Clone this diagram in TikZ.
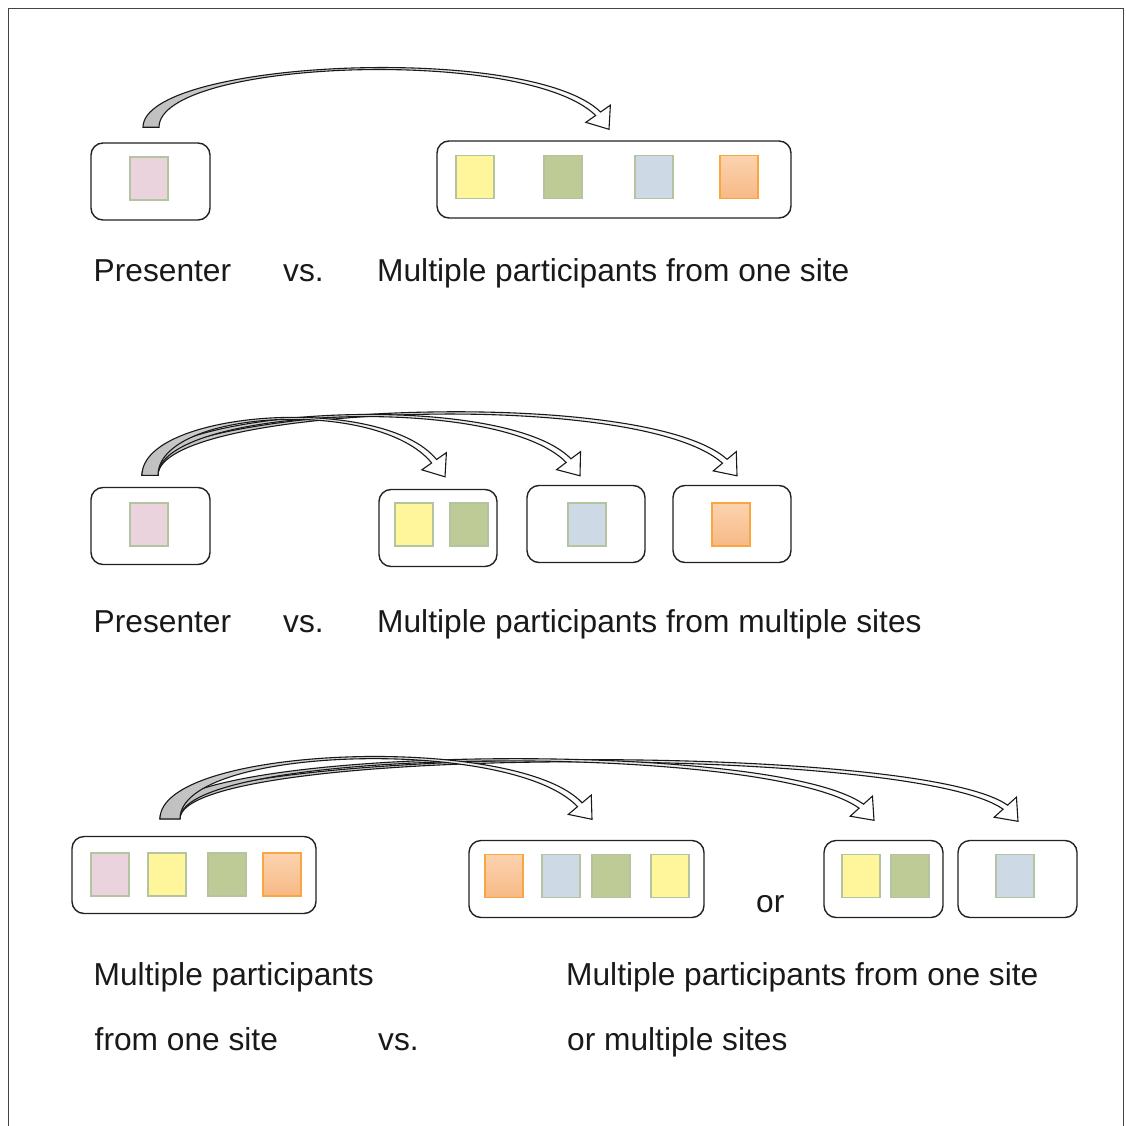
\documentclass[tikz,border=0pt]{standalone}
\usepackage{fontspec}
\setmainfont{Liberation Sans}
\usetikzlibrary{calc}

\definecolor{pinkfill}{HTML}{EBD3DD}
\definecolor{yellowfill}{HTML}{FFF59B}
\definecolor{greenfill}{HTML}{BECB96}
\definecolor{bluefill}{HTML}{CED9E6}
\definecolor{orangetop}{HTML}{FBD3AF}
\definecolor{orangebot}{HTML}{F7B985}
\definecolor{orangeline}{HTML}{F8A542}
\definecolor{sqline}{HTML}{B4C4A0}
\definecolor{boxline}{HTML}{222222}
\definecolor{frameline}{HTML}{444444}

\tikzset{
  x=1pt, y=-1pt,
  grp/.style={draw=boxline, line width=1.4pt, rounded corners=12pt, fill=white,
    inner sep=0pt, minimum width=#1, minimum height=77pt},
  grp/.default=119pt,
  sq/.style={draw=sqline, line width=1.3pt, fill=#1, inner sep=0pt,
    minimum width=38pt, minimum height=43pt},
  sqorange/.style={draw=orangeline, line width=1.3pt, top color=orangetop,
    bottom color=orangebot, inner sep=0pt, minimum width=38pt, minimum height=43pt},
  lbl/.style={anchor=base west, inner sep=0pt, text=black!90,
    font=\fontsize{31.7}{37}\selectfont},
  flexarrow/.style={draw=black!90, line width=1.1pt, line join=miter,
    left color=black!25, right color=white},
}

% Tapered block arrow: shaft leaves #1 straight upwards, bends along a cubic
% with control points #2 and #3, and ends in an open head with its tip at #4,
% pointing at angle #5 (angles run clockwise, y grows downwards).
\def\faws{8}   % half width of the shaft at the start
\def\fawe{3}   % half width of the shaft at the head
\def\fahw{15}  % half width of the head
\def\fahl{19}  % length of the head
\newcommand\fatarrow[5]{%
  \coordinate (fa-S) at (#1);
  \coordinate (fa-A) at (#2);
  \coordinate (fa-B) at (#3);
  \coordinate (fa-T) at (#4);
  \coordinate (fa-E) at ($(fa-T)+(#5+180:\fahl)$);
  \coordinate (fa-So) at ($(fa-S)+(\faws,0)$);
  \coordinate (fa-Si) at ($(fa-S)-(\faws,0)$);
  \coordinate (fa-Eo) at ($(fa-E)+(#5+90:\fawe)$);
  \coordinate (fa-Ei) at ($(fa-E)+(#5-90:\fawe)$);
  \coordinate (fa-Ho) at ($(fa-E)+(#5+90:\fahw)$);
  \coordinate (fa-Hi) at ($(fa-E)+(#5-90:\fahw)$);
  \draw[flexarrow] (fa-So)
    .. controls ($(fa-A)+(fa-So)-(fa-S)$) and ($(fa-B)+(fa-Eo)-(fa-E)$) .. (fa-Eo)
    -- (fa-Ho) -- (fa-T) -- (fa-Hi) -- (fa-Ei)
    .. controls ($(fa-B)+(fa-Ei)-(fa-E)$) and ($(fa-A)+(fa-Si)-(fa-S)$) .. (fa-Si)
    -- cycle;
}

\begin{document}
\begin{tikzpicture}
\useasboundingbox (0,0) rectangle (1125,1126);

% outer frame
\draw[frameline, line width=1.6pt] (8.5,1126) -- (8.5,8.5) -- (1123.5,8.5) -- (1123.5,1126);

% ---------- presenter vs. one site ----------
\node[grp] (pres1) at (150.5,181.5) {};
\node[sq=pinkfill] (pres1p) at (149,178.5) {};
\node[grp=354pt] (site1) at (614,179.5) {};
\node[sq=yellowfill] (site1y) at (475,177) {};
\node[sq=greenfill] (site1g) at (563,177) {};
\node[sq=bluefill] (site1b) at (654,177) {};
\node[sqorange] (site1o) at (739,177) {};

\coordinate (r1s) at ([xshift=0.5pt,yshift=15pt]pres1.north);
\coordinate (r1e) at ([xshift=-5pt,yshift=11pt]site1.north);
\fatarrow{r1s}{151,60}{527,44}{r1e}{55}

\node[lbl] (t1a) at (93.5,281) {Presenter};
\node[lbl] (t1b) at (283,281) {vs.};
\node[lbl] (t1c) at (377,281) {Multiple participants from one site};

% ---------- presenter vs. multiple sites ----------
\node[grp] (pres2) at (150.5,526) {};
\node[sq=pinkfill] (pres2p) at (149,524.5) {};
\node[grp=118pt] (site2a) at (438,528) {};
\node[sq=yellowfill] (site2ay) at (414,524.5) {};
\node[sq=greenfill] (site2ag) at (469,524.5) {};
\node[grp=118pt] (site2b) at (586,524) {};
\node[sq=bluefill] (site2bb) at (587,524.5) {};
\node[grp=118pt] (site2c) at (732,524) {};
\node[sqorange] (site2co) at (731,524.5) {};

\coordinate (r2s) at ([xshift=-0.5pt,yshift=11.5pt]pres2.north);
\coordinate (r2ea) at ([xshift=7pt,yshift=12pt]site2a.north);
\coordinate (r2eb) at ([xshift=-6pt,yshift=9pt]site2b.north);
\coordinate (r2ec) at ([xshift=5pt,yshift=9pt]site2c.north);
\fatarrow{r2s}{150,406}{640,385}{r2ec}{50}
\fatarrow{r2s}{150,408}{500,390}{r2eb}{53}
\fatarrow{r2s}{150,410}{380,395}{r2ea}{55}

\node[lbl] (t2a) at (93.5,632) {Presenter};
\node[lbl] (t2b) at (283,632) {vs.};
\node[lbl] (t2c) at (377,632) {Multiple participants from multiple sites};

% ---------- one site vs. one or multiple sites ----------
\node[grp=244pt] (site3) at (194,875) {};
\node[sq=pinkfill] (site3p) at (110,874.5) {};
\node[sq=yellowfill] (site3y) at (167,874.5) {};
\node[sq=greenfill] (site3g) at (227,874.5) {};
\node[sqorange] (site3o) at (282,874.5) {};

\node[grp=235pt] (site3m) at (586.5,879) {};
\node[sqorange] (site3mo) at (504,876) {};
\node[sq=bluefill] (site3mb) at (561,876) {};
\node[sq=greenfill] (site3mg) at (611,876) {};
\node[sq=yellowfill] (site3my) at (670,876) {};

\node[lbl] (t3or) at (756,912) {or};

\node[grp] (site3r) at (883.5,879) {};
\node[sq=yellowfill] (site3ry) at (861,876) {};
\node[sq=greenfill] (site3rg) at (910,876) {};
\node[grp] (site3s) at (1017.5,879) {};
\node[sq=bluefill] (site3sb) at (1015,876) {};

\def\faws{10}
\coordinate (r3s) at ([xshift=-24pt,yshift=17pt]site3.north);
\coordinate (r3ea) at ([xshift=5.5pt,yshift=20.5pt]site3m.north);
\coordinate (r3eb) at ([xshift=-9.5pt,yshift=19.5pt]site3r.north);
\coordinate (r3ec) at ([xshift=0.5pt,yshift=18.5pt]site3s.north);
\fatarrow{r3s}{170,745}{915,742}{r3ec}{48}
\fatarrow{r3s}{170,745}{770,740}{r3eb}{48}
\fatarrow{r3s}{170,745}{515,735}{r3ea}{50}

\node[lbl] (t3a) at (93.5,985) {Multiple participants};
\node[lbl] (t3b) at (94.5,1050) {from one site};
\node[lbl] (t3c) at (378,1050) {vs.};
\node[lbl] (t3d) at (566,985) {Multiple participants from one site};
\node[lbl] (t3e) at (567,1050) {or multiple sites};
\end{tikzpicture}
\end{document}
